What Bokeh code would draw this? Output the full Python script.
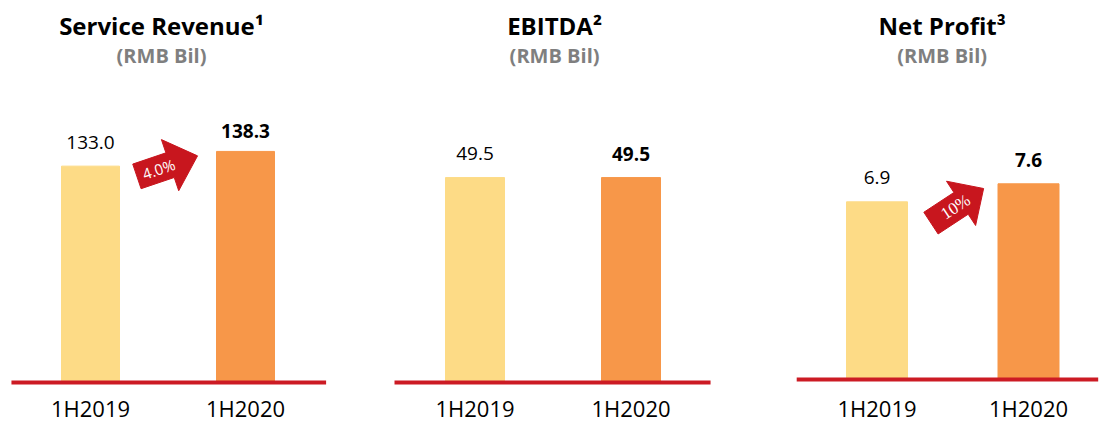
import math
from bokeh.plotting import figure
from bokeh.layouts import row
from bokeh.models import Range1d, ColumnDataSource
from bokeh.core.properties import value
from bokeh.embed import file_html
from bokeh.resources import INLINE

# ---------------- data ----------------
periods = ["1H2019", "1H2020"]
titles = ["Service Revenue\u00b9", "EBITDA\u00b2", "Net Profit\u00b3"]
subtitle = "(RMB Bil)"
service_revenue = [133.0, 138.3]
ebitda = [49.5, 49.5]
net_profit = [6.9, 7.6]
growth_labels = ["4.0%", None, "10%"]

# ---------------- style ----------------
FONT = "Open Sans"
YELLOW = "#FDDB86"
ORANGE = "#F79749"
RED = "#C8161E"
LINE_RED = "#CC1B24"
GRAY = "#7F7F7F"
H = 421
TSHIFT = 8  # empirical text baseline correction (px)

# per panel layout (reference pixel geometry)
panels = [
    dict(values=service_revenue, title=titles[0], growth=growth_labels[0],
         left=0, width=370, c0=90, spacing=155, barw=58, floor=55, k=2.774,
         base=382, line=(-0.51, 1.52), title_x=0.458, gaps=(16, 12),
         arrow=dict(x=0.495, off=0, ang=18.7, L=64, sh=13, hh=27, hl=29, tpos=-9, fs="15px", font=FONT)),
    dict(values=ebitda, title=titles[1], growth=growth_labels[1],
         left=370, width=375, c0=474.5, spacing=156, barw=59, floor=0, k=4.14,
         base=382, line=(-0.516, 1.51), title_x=0.51, gaps=(16, 16), arrow=None),
    dict(values=net_profit, title=titles[2], growth=growth_labels[2],
         left=745, width=356, c0=876.5, spacing=151.5, barw=61, floor=0, k=25.75,
         base=379, line=(-0.53, 1.46), title_x=0.43, gaps=(16, 16),
         arrow=dict(x=0.53, off=4, ang=33.3, L=63, sh=13, hh=26.5, hl=27, tpos=-2, fs="17px", font="Liberation Serif")),
]


def make_panel(cfg):
    kx = cfg["spacing"]
    ky = cfg["k"]
    xs = -(cfg["c0"] - cfg["left"]) / kx
    xe = xs + cfg["width"] / kx
    fy_base = cfg["base"]
    ye = cfg["floor"] + fy_base / ky
    ys = ye - H / ky

    def y_of(ref_y):
        return ye - ref_y / ky

    p = figure(width=cfg["width"], height=H, x_range=Range1d(xs, xe), y_range=Range1d(ys, ye),
               x_axis_type=None, y_axis_type=None, output_backend="svg", toolbar_location=None,
               min_border=0, outline_line_color=None)
    p.grid.visible = False
    p.background_fill_color = "white"
    p.border_fill_color = "white"

    vals = cfg["values"]
    xpos = list(range(len(periods)))
    src = ColumnDataSource(dict(x=xpos, top=vals, color=[YELLOW, ORANGE],
                                label=[f"{v:.1f}" for v in vals], period=periods))
    p.vbar(x="x", top="top", bottom=cfg["floor"], width=cfg["barw"] / kx, color="color", source=src)

    # baseline
    p.segment(x0=[cfg["line"][0]], y0=[cfg["floor"]], x1=[cfg["line"][1]], y1=[cfg["floor"]],
              line_color=LINE_RED, line_width=4)

    # value labels
    g0, g1 = cfg["gaps"]
    p.text(x=[xpos[0]], y=[vals[0]], text=[f"{vals[0]:.1f}"], y_offset=-g0 - TSHIFT,
           text_align="center", text_baseline="alphabetic", text_font=value(FONT),
           text_font_size="19px", text_color="black")
    p.text(x=[xpos[1]], y=[vals[1]], text=[f"{vals[1]:.1f}"], y_offset=-g1 - TSHIFT,
           text_align="center", text_baseline="alphabetic", text_font=value(FONT),
           text_font_size="19px", text_font_style="bold", text_color="black")

    # category labels
    p.text(x="x", y=y_of(415 - TSHIFT), text="period", source=src, text_align="center",
           text_baseline="alphabetic", text_font=value(FONT), text_font_size="22px",
           text_color="black")

    # titles
    p.text(x=[cfg["title_x"]], y=[y_of(33 - TSHIFT)], text=[cfg["title"]], text_align="center",
           text_baseline="alphabetic", text_font=value(FONT), text_font_size="24px",
           text_font_style="bold", text_color="black")
    p.text(x=[cfg["title_x"]], y=[y_of(63 - TSHIFT)], text=[subtitle], text_align="center",
           text_baseline="alphabetic", text_font=value(FONT), text_font_size="20px",
           text_font_style="bold", text_color=GRAY)

    # growth arrow
    a = cfg["arrow"]
    if a is not None and cfg["growth"]:
        th = math.radians(a["ang"])
        cx = a["x"]
        cy = vals[0] - a["off"] / ky
        L, sh, hh, hl = a["L"], a["sh"], a["hh"], a["hl"]
        local = [(-L / 2, -sh), (L / 2 - hl, -sh), (L / 2 - hl, -hh), (L / 2, 0),
                 (L / 2 - hl, hh), (L / 2 - hl, sh), (-L / 2, sh)]
        px, py = [], []
        for u, v in local:
            dx = u * math.cos(th) - v * math.sin(th)
            dy = u * math.sin(th) + v * math.cos(th)
            px.append(cx + dx / kx)
            py.append(cy + dy / ky)
        p.patch(px, py, fill_color=RED, line_color=RED, line_width=1)
        tx = cx + a["tpos"] * math.cos(th) / kx
        ty = cy + a["tpos"] * math.sin(th) / ky
        p.text(x=[tx], y=[ty], text=[cfg["growth"]], angle=th, text_align="center",
               text_baseline="middle", text_font=value(a["font"]), text_font_size=a["fs"],
               text_color="white")
    return p


figs = [make_panel(c) for c in panels]
layout = row(*figs, spacing=0)
open("out.html", "w").write(file_html(layout, INLINE))
